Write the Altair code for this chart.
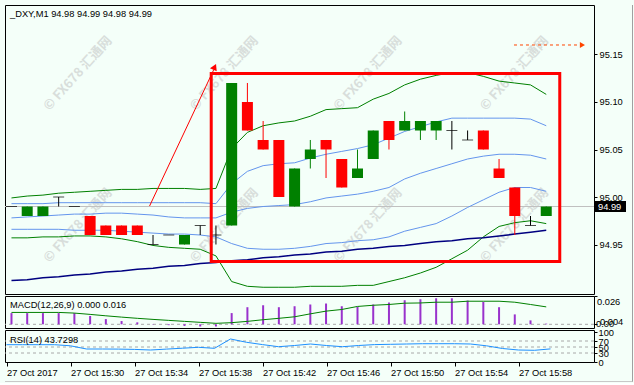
import altair as alt
import pandas as pd

# ---------------- data ----------------
bar_index = list(range(35))          # 15:26 ... 16:00, one bar per minute
opens  = [94.99, 94.98, 94.98, 95.00, 94.99, 94.98, 94.97, 94.97, 94.97, 94.95,
          94.96, 94.95, 94.97, 94.96, 94.97, 95.10, 95.06, 95.06, 94.99, 95.04,
          95.06, 95.04, 95.02, 95.04, 95.08, 95.07, 95.07, 95.07, 95.07, 95.06,
          95.07, 95.03, 95.01, 94.97, 94.98]
highs  = [94.99, 94.99, 94.99, 95.00, 94.99, 94.98, 94.97, 94.97, 94.97, 94.96,
          94.96, 94.96, 94.97, 94.97, 95.12, 95.12, 95.08, 95.06, 95.03, 95.06,
          95.06, 95.04, 95.05, 95.07, 95.08, 95.09, 95.08, 95.08, 95.08, 95.07,
          95.07, 95.04, 95.01, 94.98, 94.99]
lows   = [94.99, 94.98, 94.98, 94.99, 94.99, 94.96, 94.96, 94.96, 94.96, 94.95,
          94.96, 94.95, 94.96, 94.95, 94.97, 95.07, 95.05, 95.00, 94.99, 95.03,
          95.02, 95.01, 95.02, 95.04, 95.05, 95.07, 95.06, 95.06, 95.05, 95.06,
          95.05, 95.02, 94.96, 94.97, 94.98]
closes = [94.99, 94.99, 94.99, 95.00, 94.99, 94.96, 94.96, 94.96, 94.96, 94.95,
          94.96, 94.96, 94.97, 94.96, 95.12, 95.07, 95.05, 95.00, 95.03, 95.05,
          95.05, 95.01, 95.03, 95.07, 95.06, 95.08, 95.08, 95.08, 95.07, 95.06,
          95.05, 95.02, 94.98, 94.97, 94.99]

band_outer_up = [94.999, 95.001, 95.002, 95.004, 95.005, 95.006, 95.007, 95.008, 95.008, 95.009,
                 95.009, 95.009, 95.008, 95.009, 95.051, 95.068, 95.075, 95.078, 95.080, 95.085,
                 95.092, 95.093, 95.094, 95.103, 95.109, 95.118, 95.124, 95.128, 95.131, 95.131,
                 95.127, 95.122, 95.120, 95.118, 95.108]
band_inner_up = [94.993, 94.993, 94.993, 94.994, 94.994, 94.994, 94.994, 94.994, 94.994, 94.994,
                 94.994, 94.994, 94.994, 94.993, 95.014, 95.027, 95.033, 95.035, 95.036, 95.041,
                 95.045, 95.048, 95.051, 95.055, 95.062, 95.069, 95.074, 95.079, 95.083, 95.083,
                 95.083, 95.083, 95.083, 95.082, 95.075]
band_mid      = [94.978, 94.979, 94.980, 94.981, 94.982, 94.982, 94.983, 94.983, 94.982, 94.981,
                 94.979, 94.978, 94.978, 94.978, 94.984, 94.988, 94.990, 94.991, 94.992, 94.995,
                 94.999, 95.001, 95.003, 95.006, 95.010, 95.019, 95.025, 95.030, 95.035, 95.040,
                 95.043, 95.045, 95.045, 95.044, 95.040]
band_inner_lo = [94.966, 94.966, 94.966, 94.966, 94.965, 94.965, 94.965, 94.964, 94.963, 94.962,
                 94.961, 94.961, 94.960, 94.958, 94.951, 94.946, 94.945, 94.945, 94.946, 94.948,
                 94.951, 94.952, 94.954, 94.955, 94.958, 94.964, 94.968, 94.972, 94.980, 94.989,
                 94.997, 95.005, 95.010, 95.010, 95.006]
band_outer_lo = [94.957, 94.957, 94.958, 94.958, 94.959, 94.959, 94.958, 94.956, 94.953, 94.949,
                 94.947, 94.946, 94.945, 94.938, 94.911, 94.906, 94.905, 94.905, 94.905, 94.906,
                 94.906, 94.906, 94.907, 94.907, 94.911, 94.915, 94.920, 94.926, 94.935, 94.944,
                 94.958, 94.969, 94.973, 94.975, 94.972]
ma_slow       = [94.912, 94.913, 94.915, 94.916, 94.918, 94.919, 94.921, 94.922, 94.924, 94.925,
                 94.927, 94.928, 94.930, 94.931, 94.933, 94.934, 94.936, 94.937, 94.939, 94.940,
                 94.942, 94.943, 94.945, 94.946, 94.948, 94.949, 94.951, 94.953, 94.954, 94.956,
                 94.957, 94.959, 94.961, 94.963, 94.965]

macd_hist   = [0.0103, 0.0103, 0.0103, 0.0103, 0.0103, 0.0076, 0.0048, 0.0030, 0.0018, 0.0003,
               -0.0008, -0.0015, -0.0020, -0.0020, 0.0103, 0.0157, 0.0175, 0.0157, 0.0166, 0.0182,
               0.0191, 0.0166, 0.0161, 0.0182, 0.0200, 0.0221, 0.0230, 0.0239, 0.0239, 0.0218,
               0.0206, 0.0157, 0.0091, 0.0036, 0.0006]
macd_signal = [0.0109, 0.0109, 0.0109, 0.0109, 0.0103, 0.0091, 0.0078, 0.0066, 0.0055, 0.0045,
               0.0036, 0.0027, 0.0018, 0.0009, 0.0015, 0.0027, 0.0042, 0.0055, 0.0069, 0.0096,
               0.0121, 0.0136, 0.0164, 0.0175, 0.0182, 0.0194, 0.0196, 0.0203, 0.0203, 0.0212,
               0.0212, 0.0212, 0.0203, 0.0182, 0.0160]
rsi_values  = [57.7, 57.7, 57.7, 57.7, 54.0, 43.3, 43.3, 43.0, 42.0, 40.0,
               43.0, 46.0, 49.0, 45.6, 76.7, 65.7, 58.0, 51.0, 55.0, 60.0,
               55.0, 51.0, 55.0, 58.0, 59.0, 60.0, 61.0, 61.0, 61.0, 60.0,
               54.0, 45.0, 40.0, 39.0, 43.7]
rsi_levels = [70, 50, 30]

time_tick_index = [0, 4, 8, 12, 16, 20, 24, 28, 32]
time_tick_labels = ["27 Oct 2017", "27 Oct 15:30", "27 Oct 15:34", "27 Oct 15:38", "27 Oct 15:42",
                    "27 Oct 15:46", "27 Oct 15:50", "27 Oct 15:54", "27 Oct 15:58"]
price_ticks = [94.95, 95.00, 95.05, 95.10, 95.15]
rsi_ticks = [0, 30, 50, 70, 100]
last_price = 94.99

box_index = [12.7, 34.86]
box_price = [94.932, 95.130]
arrow_index = [8.78, 12.86]
arrow_price = [94.9905, 95.134]
arrow_head = (12.92, 95.137)
target_index = [31.95, 36.15]
target_price = [95.16, 95.16]
target_head = (36.3, 95.16)
watermark_index = [4.22, 13.53, 22.66, 31.97, 4.22, 13.53, 22.66, 31.97]
watermark_price = [95.130, 95.130, 95.130, 95.130, 94.970, 94.970, 94.970, 94.970]

main_title = "_DXY,M1  94.98 94.99 94.98 94.99"
macd_title = "MACD(12,26,9) 0.000 0.016"
rsi_title = "RSI(14) 43.7298"
macd_axis_text = ["0.026", "0.004", "0.00"]
macd_axis_vals = [0.026, 0.004, 0.0]

# ---------------- styling ----------------
FONT = "Liberation Sans"
FS = 9.3
BG = "#F4FFF9"
GREEN = "#008000"
RED = "#FF0000"
W = 589

xscale = alt.Scale(domain=[-0.09375, 36.71875], nice=False, zero=False)
pscale = alt.Scale(domain=[94.8979, 95.2021], nice=False, zero=False)
mscale = alt.Scale(domain=[-0.0034, 0.026], nice=False, zero=False)
rscale = alt.Scale(domain=[0, 106.7], nice=False, zero=False)

price_axis = alt.Axis(orient="right", values=price_ticks, format=".2f", tickSize=3,
                      labelPadding=2, labelOverlap=False, title=None)
macd_axis = alt.Axis(orient="right", values=[0.026, 0.0], labels=False, tickSize=3, title=None)
rsi_axis = alt.Axis(orient="right", values=rsi_ticks, tickSize=3, labelPadding=1,
                    labelOverlap=False, title=None)
label_js = "[" + ",".join(f"'{s}'" for s in time_tick_labels) + "]"
time_axis = alt.Axis(orient="bottom", values=time_tick_index,
                     labelExpr=f"{label_js}[round(datum.value/4)]", labelAlign="left",
                     labelFlush=False, labelOverlap=False, tickSize=4, labelPadding=2,
                     title=None)


def X(field="i"):
    return alt.X(f"{field}:Q", scale=xscale, axis=None)


def P(field):
    return alt.Y(f"{field}:Q", scale=pscale, axis=price_axis)


def M(field):
    return alt.Y(f"{field}:Q", scale=mscale, axis=macd_axis)


def R(field):
    return alt.Y(f"{field}:Q", scale=rscale, axis=rsi_axis)


cdf = pd.DataFrame({"i": bar_index, "o": opens, "h": highs, "l": lows, "c": closes})
cdf["dir"] = ["up" if c > o else ("down" if c < o else "flat") for o, c in zip(opens, closes)]
dir_color = alt.Color("dir:N", scale=alt.Scale(domain=["up", "down", "flat"],
                                              range=[GREEN, RED, "#000000"]), legend=None)

ldf = pd.DataFrame({"i": bar_index, "ou": band_outer_up, "iu": band_inner_up, "m": band_mid,
                    "il": band_inner_lo, "ol": band_outer_lo, "ma": ma_slow})

wm = alt.Chart(pd.DataFrame({"i": watermark_index, "p": watermark_price})).mark_text(
    text="© FX678 汇通网", angle=312, font="Noto Sans CJK SC", fontSize=13, fontWeight="bold",
    color="#B8B8B8", opacity=0.45, clip=True).encode(x=X(), y=P("p"))

price_line = alt.Chart(pd.DataFrame({"p": [last_price]})).mark_rule(color="#C0C0C0").encode(
    y=P("p"))

band_layers = []
for col, colr, sw in [("ou", GREEN, 1), ("iu", "#6495ED", 1), ("m", "#6495ED", 1),
                      ("il", "#6495ED", 1), ("ol", GREEN, 1), ("ma", "#000080", 1.5)]:
    band_layers.append(alt.Chart(ldf).mark_line(color=colr, strokeWidth=sw, clip=True)
                       .encode(x=X(), y=P(col)))

wicks = alt.Chart(cdf[cdf.h > cdf.l]).mark_rule(strokeWidth=1, clip=True).encode(
    x=X(), y=P("l"), y2="h:Q", color=dir_color)
bodies = alt.Chart(cdf[cdf.dir != "flat"]).mark_bar(size=11, clip=True).encode(
    x=X(), y=P("o"), y2="c:Q", color=dir_color)
dojis = alt.Chart(cdf[cdf.dir == "flat"]).mark_tick(orient="horizontal", size=11, thickness=1,
                                                   color="black", clip=True).encode(x=X(), y=P("o"))

box = alt.Chart(pd.DataFrame({"x1": [box_index[0]], "x2": [box_index[1]],
                              "y1": [box_price[0]], "y2": [box_price[1]]})).mark_rect(
    filled=False, color=RED, strokeWidth=3, clip=True).encode(
    x=X("x1"), x2="x2:Q", y=P("y1"), y2="y2:Q")

arrow = alt.Chart(pd.DataFrame({"i": arrow_index, "p": arrow_price})).mark_line(
    color=RED, strokeWidth=1, clip=True).encode(x=X(), y=P("p"))
arrow_tip = alt.Chart(pd.DataFrame({"i": [arrow_head[0]], "p": [arrow_head[1]]})).mark_point(
    shape="triangle-up", filled=True, size=55, angle=25, color=RED, opacity=1).encode(
    x=X(), y=P("p"))
target = alt.Chart(pd.DataFrame({"i": target_index, "p": target_price})).mark_line(
    color="#FF4500", strokeWidth=1, strokeDash=[3, 3], clip=True).encode(x=X(), y=P("p"))
target_tip = alt.Chart(pd.DataFrame({"i": [target_head[0]], "p": [target_head[1]]})).mark_point(
    shape="triangle-right", filled=True, size=35, color="#FF4500", opacity=1).encode(
    x=X(), y=P("p"))

title_main = alt.Chart(pd.DataFrame({"t": [main_title]})).mark_text(
    align="left", baseline="middle", font=FONT, fontSize=FS, color="black").encode(
    x=alt.value(5), y=alt.value(9), text="t:N")

plabel = pd.DataFrame({"p": [last_price], "t": [f"{last_price:.2f}"]})
plabel_box = alt.Chart(plabel).mark_rule(color="black", strokeWidth=11).encode(
    x=alt.value(590), x2=alt.value(621), y=P("p"))
plabel_txt = alt.Chart(plabel).mark_text(align="left", baseline="middle", font=FONT,
                                         fontSize=FS, color="white").encode(
    x=alt.value(593), y=P("p"), text="t:N")

main = alt.layer(wm, price_line, *band_layers, wicks, bodies, dojis, box, arrow, arrow_tip,
                 target, target_tip, title_main, plabel_box, plabel_txt).properties(
    width=W, height=289)

# ---------------- MACD ----------------
mdf = pd.DataFrame({"i": bar_index, "h": macd_hist, "s": macd_signal, "z": [0.0] * len(bar_index)})
m_zero = alt.Chart(pd.DataFrame({"v": [0.0]})).mark_rule(color="#A8A8A8", strokeDash=[3, 3]).encode(
    y=M("v"))
m_hist = alt.Chart(mdf).mark_bar(size=2, color="#9932CC", clip=True).encode(
    x=X(), y=M("h"), y2="z:Q")
m_sig = alt.Chart(mdf).mark_line(color=GREEN, strokeWidth=1, clip=True).encode(
    x=X(), y=M("s"))
m_title = alt.Chart(pd.DataFrame({"t": [macd_title]})).mark_text(
    align="left", baseline="middle", font=FONT, fontSize=FS, color="black").encode(
    x=alt.value(5), y=alt.value(9), text="t:N")
mlab = pd.DataFrame({"t": macd_axis_text, "v": macd_axis_vals,
                     "dx": [592, 595, 591], "dy": [6, 2, 0]})
m_labels = [alt.Chart(mlab.iloc[[k]]).mark_text(align="left", baseline="middle", font=FONT,
                                                fontSize=FS, color="black",
                                                dy=int(mlab.dy[k])).encode(
    x=alt.value(int(mlab.dx[k])), y=M("v"), text="t:N")
    for k in range(len(mlab))]
macd = alt.layer(m_zero, m_hist, m_sig, m_title, *m_labels).properties(width=W, height=32)

# ---------------- RSI ----------------
rdf = pd.DataFrame({"i": bar_index, "r": rsi_values})
r_levels = alt.Chart(pd.DataFrame({"v": rsi_levels})).mark_rule(
    color="#A8A8A8", strokeDash=[3, 3]).encode(y=R("v"))
r_line = alt.Chart(rdf).mark_line(color="#1E90FF", strokeWidth=1, clip=True).encode(
    x=alt.X("i:Q", scale=xscale, axis=time_axis), y=R("r"))
r_title = alt.Chart(pd.DataFrame({"t": [rsi_title]})).mark_text(
    align="left", baseline="middle", font=FONT, fontSize=FS, color="black").encode(
    x=alt.value(5), y=alt.value(10), text="t:N")
# window frame (right and bottom edges of the terminal window)
frame_v = alt.Chart(pd.DataFrame({"k": [0]})).mark_rule(color="#A0A0A0").encode(
    x=alt.value(627.5), y=alt.value(-325), y2=alt.value(52))
frame_h = alt.Chart(pd.DataFrame({"k": [0]})).mark_rule(color="#C8C8C8").encode(
    x=alt.value(0), x2=alt.value(627.5), y=alt.value(51.5))
rsi = alt.layer(r_levels, r_line, r_title, frame_v, frame_h).properties(width=W, height=32)

chart = alt.vconcat(main, macd, rsi, spacing=2, bounds="flush").properties(
    padding={"left": 4, "top": 4, "right": 0, "bottom": 0}, background=BG
).configure_view(stroke="black", strokeWidth=1).configure_axis(
    labelFont=FONT, labelFontSize=FS, labelColor="black", tickColor="black", domain=False,
    grid=False)

chart.save("out.html", embed_options={"renderer": "svg", "actions": False})
